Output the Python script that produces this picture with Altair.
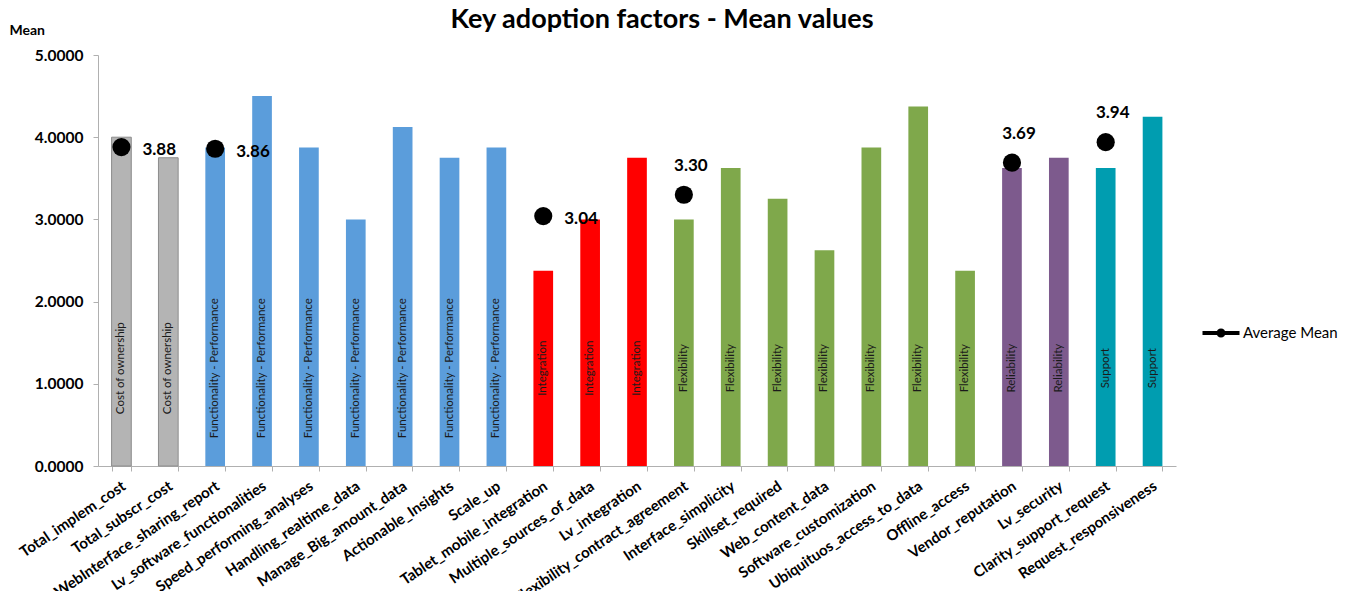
import altair as alt
import pandas as pd

categories = [
    "Total_implem_cost", "Total_subscr_cost", "WebInterface_sharing_report",
    "Lv_software_functionalities", "Speed_performing_analyses", "Handling_realtime_data",
    "Manage_Big_amount_data", "Actionable_Insights", "Scale_up",
    "Tablet_mobile_integration", "Multiple_sources_of_data", "Lv_integration",
    "Flexibility_contract_agreement", "Interface_simplicity", "Skillset_required",
    "Web_content_data", "Software_customization", "Ubiquituos_access_to_data",
    "Offline_access", "Vendor_reputation", "Lv_security",
    "Clarity_support_request", "Request_responsiveness",
]
mean_values = [4.0, 3.75, 3.875, 4.5, 3.875, 3.0, 4.125, 3.75, 3.875,
               2.375, 3.0, 3.75, 3.0, 3.625, 3.25, 2.625, 3.875, 4.375,
               2.375, 3.625, 3.75, 3.625, 4.25]
factor_groups = [
    "Cost of ownership", "Cost of ownership",
    "Functionality - Performance", "Functionality - Performance",
    "Functionality - Performance", "Functionality - Performance",
    "Functionality - Performance", "Functionality - Performance",
    "Functionality - Performance",
    "Integration", "Integration", "Integration",
    "Flexibility", "Flexibility", "Flexibility", "Flexibility",
    "Flexibility", "Flexibility", "Flexibility",
    "Reliability", "Reliability",
    "Support", "Support",
]
group_names = ["Cost of ownership", "Functionality - Performance", "Integration",
               "Flexibility", "Reliability", "Support"]
group_colors = ["#B4B4B4", "#5B9DDB", "#FF0000", "#7FA84B", "#7D5A8D", "#009DB0"]

avg_categories = ["Total_implem_cost", "WebInterface_sharing_report",
                  "Tablet_mobile_integration", "Flexibility_contract_agreement",
                  "Vendor_reputation", "Clarity_support_request"]
avg_mean = [3.88, 3.86, 3.04, 3.30, 3.69, 3.94]
labels_above = ["Flexibility_contract_agreement", "Vendor_reputation",
                "Clarity_support_request"]

bars_df = pd.DataFrame({"cat": categories, "mean": mean_values, "group": factor_groups})
avg_df = pd.DataFrame({"cat": avg_categories, "avg": avg_mean,
                       "series": ["Average Mean"] * len(avg_mean)})
avg_df["label"] = avg_df["avg"].map(lambda v: f"{v:.2f}")

FONT = "Lato"

x_enc = alt.X(
    "cat:N", sort=categories, title=None,
    scale=alt.Scale(paddingInner=0.58, paddingOuter=0.29),
    axis=alt.Axis(labelAngle=-34, labelAlign="right", labelBaseline="middle",
                  labelPadding=13, labelOffset=2, tickBand="extent", tickSize=5,
                  domainColor="#B0B0B0", tickColor="#B0B0B0",
                  labelFont=FONT, labelFontSize=15, labelFontWeight="bold",
                  labelColor="#000000", labelOverlap=False, labelLimit=300),
)
y_scale = alt.Scale(domain=[0, 5])

bars = alt.Chart(bars_df).mark_bar(strokeWidth=1).encode(
    x=x_enc,
    y=alt.Y("mean:Q", scale=y_scale,
            axis=alt.Axis(values=[0, 1, 2, 3, 4, 5], format=".4f", grid=False,
                          tickSize=5, labelPadding=10, domainColor="#B0B0B0",
                          tickColor="#B0B0B0", labelFont=FONT, labelFontSize=15.5,
                          labelFontWeight="bold", labelColor="#000000",
                          title="Mean", titleAngle=0, titleAlign="left",
                          titleBaseline="middle", titleX=-89, titleY=-25,
                          titleFont=FONT, titleFontSize=14, titleFontWeight="bold",
                          titleColor="#000000")),
    color=alt.Color("group:N", scale=alt.Scale(domain=group_names, range=group_colors),
                    legend=None),
    stroke=alt.condition(alt.datum.group == "Cost of ownership",
                         alt.value("#8C8C8C"), alt.value("transparent")),
)

inside = alt.Chart(bars_df).mark_text(
    angle=270, align="center", baseline="middle", font=FONT, fontSize=11.5,
    color="#1A1A1A",
).encode(
    x=alt.X("cat:N", sort=categories),
    y=alt.datum(1.19),
    text="group:N",
)

legend_path = ("M -1.85 -0.2 L -0.4 -0.2 L -0.4 0.2 L -1.85 0.2 Z "
               "M 0.4 -0.2 L 1.85 -0.2 L 1.85 0.2 L 0.4 0.2 Z "
               "M -0.45 0 A 0.45 0.45 0 1 1 0.45 0 A 0.45 0.45 0 1 1 -0.45 0 Z")

points = alt.Chart(avg_df).mark_point(filled=True, shape="circle", size=330,
                                      opacity=1).encode(
    x=alt.X("cat:N", sort=categories),
    y=alt.Y("avg:Q", scale=y_scale),
    color=alt.Color("series:N", scale=alt.Scale(domain=["Average Mean"], range=["#000000"]),
                    legend=alt.Legend(orient="none", legendX=1113, legendY=268,
                                      title=None, symbolType=legend_path,
                                      symbolSize=400, symbolFillColor="#000000",
                                      symbolStrokeWidth=0, labelFont=FONT,
                                      labelFontSize=15, labelColor="#000000",
                                      labelOffset=12, padding=0)),
)

labels_right = alt.Chart(avg_df).transform_filter(
    ~alt.FieldOneOfPredicate(field="cat", oneOf=labels_above)
).mark_text(align="left", baseline="middle", dx=21, dy=3, font=FONT, fontSize=17,
            fontWeight="bold", color="#000000").encode(
    x=alt.X("cat:N", sort=categories),
    y=alt.Y("avg:Q", scale=y_scale),
    text="label:N",
)

labels_top = alt.Chart(avg_df).transform_filter(
    alt.FieldOneOfPredicate(field="cat", oneOf=labels_above)
).mark_text(align="center", baseline="middle", dx=7, dy=-29, font=FONT, fontSize=17,
            fontWeight="bold", color="#000000").encode(
    x=alt.X("cat:N", sort=categories),
    y=alt.Y("avg:Q", scale=y_scale),
    text="label:N",
)

chart = alt.layer(bars, inside, points, labels_right, labels_top).resolve_scale(
    color="independent"
).properties(
    width=1078, height=411,
    background="white",
    autosize=alt.AutoSizeParams(type="none"),
    padding={"left": 90, "top": 47, "right": 170, "bottom": 125},
    title=alt.Title("Key adoption factors - Mean values", font=FONT, fontSize=27,
                    fontWeight="bold", color="#000000", anchor="middle", dx=25,
                    offset=-11),
).configure_view(strokeWidth=0, stroke="transparent")

chart.save("out.html", embed_options={"renderer": "svg", "actions": False})
